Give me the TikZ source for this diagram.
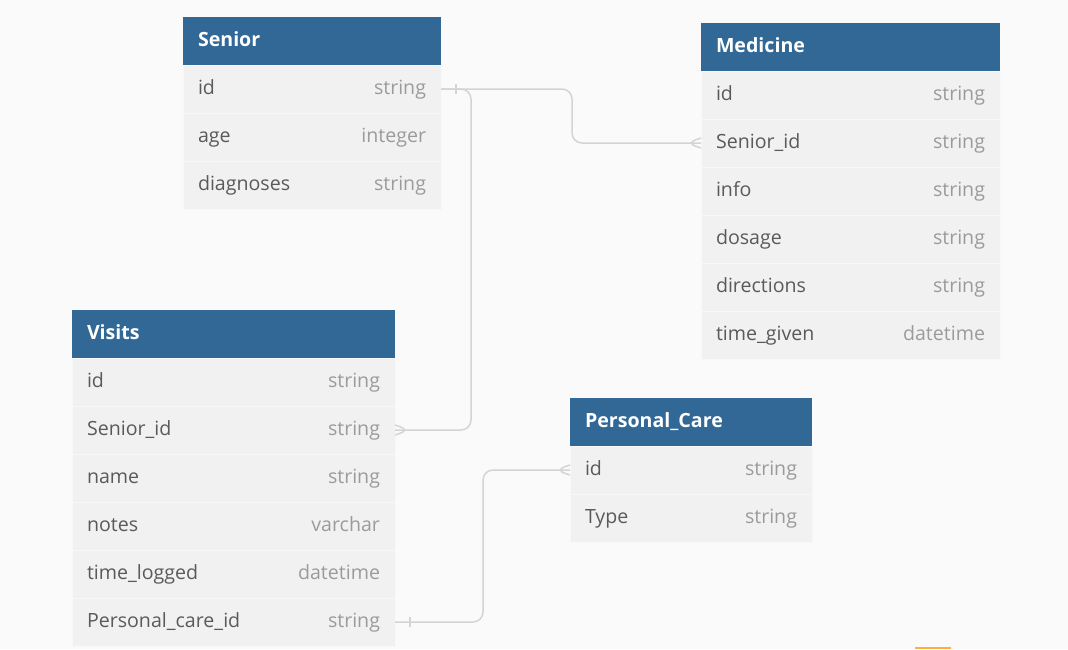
\documentclass[tikz,border=0pt]{standalone}
\usepackage{fontspec}
\setmainfont{Open Sans}
\usetikzlibrary{positioning}

\definecolor{headblue}{HTML}{316896}
\definecolor{rowgray}{HTML}{F1F1F1}
\definecolor{rowline}{HTML}{F8F8F8}
\definecolor{namegray}{HTML}{5A5A5A}
\definecolor{typegray}{HTML}{9B9B9B}
\definecolor{linkgray}{HTML}{D4D4D4}
\definecolor{bggray}{HTML}{FAFAFA}
\definecolor{badge}{HTML}{FFB03A}

\newcommand{\ftype}[1]{\textcolor{typegray}{#1}}

\begin{document}
\begin{tikzpicture}[
    x=0.5pt, y=-0.5pt,
    font=\fontsize{9.8}{12}\selectfont,
    tblhead/.style={rectangle, fill=headblue, text=white, font=\fontsize{9.8}{12}\selectfont\bfseries,
        anchor=north west, inner xsep=7.5pt, inner ysep=0pt, outer sep=0pt,
        text height=7.4pt, text depth=2.2pt,
        minimum height=24pt, text width=#1, align=left},
    tblrow/.style={rectangle, fill=rowgray, draw=rowline, line width=0.5pt, text=namegray,
        inner xsep=7.5pt, inner ysep=0pt, outer sep=0pt,
        text height=7.4pt, text depth=2.2pt,
        minimum height=24pt, text width=#1},
    link/.style={draw=linkgray, line width=0.75pt, rounded corners=5pt}
]
    % page
    \useasboundingbox (0,0) rectangle (1068,649);
    \fill[bggray] (0,0) rectangle (1068,649);

    % Senior
    \node[tblhead=114pt] (senior-head) at (183,17) {Senior};
    \node[tblrow=114pt, below=0pt of senior-head] (senior-id) {id\hfill\ftype{string}};
    \node[tblrow=114pt, below=0pt of senior-id] (senior-age) {age\hfill\ftype{integer}};
    \node[tblrow=114pt, below=0pt of senior-age] (senior-diag) {diagnoses\hfill\ftype{string}};

    % Medicine
    \node[tblhead=134.5pt] (med-head) at (701,23) {Medicine};
    \node[tblrow=134.5pt, below=0pt of med-head] (med-id) {id\hfill\ftype{string}};
    \node[tblrow=134.5pt, below=0pt of med-id] (med-sid) {Senior\_id\hfill\ftype{string}};
    \node[tblrow=134.5pt, below=0pt of med-sid] (med-info) {info\hfill\ftype{string}};
    \node[tblrow=134.5pt, below=0pt of med-info] (med-dose) {dosage\hfill\ftype{string}};
    \node[tblrow=134.5pt, below=0pt of med-dose] (med-dir) {directions\hfill\ftype{string}};
    \node[tblrow=134.5pt, below=0pt of med-dir] (med-time) {time\_given\hfill\ftype{datetime}};

    % Visits
    \node[tblhead=146.5pt] (vis-head) at (72,310) {Visits};
    \node[tblrow=146.5pt, below=0pt of vis-head] (vis-id) {id\hfill\ftype{string}};
    \node[tblrow=146.5pt, below=0pt of vis-id] (vis-sid) {Senior\_id\hfill\ftype{string}};
    \node[tblrow=146.5pt, below=0pt of vis-sid] (vis-name) {name\hfill\ftype{string}};
    \node[tblrow=146.5pt, below=0pt of vis-name] (vis-notes) {notes\hfill\ftype{varchar}};
    \node[tblrow=146.5pt, below=0pt of vis-notes] (vis-time) {time\_logged\hfill\ftype{datetime}};
    \node[tblrow=146.5pt, below=0pt of vis-time] (vis-pcid) {Personal\_care\_id\hfill\ftype{string}};

    % Personal_Care
    \node[tblhead=106pt] (pc-head) at (570,398) {Personal\_Care};
    \node[tblrow=106pt, below=0pt of pc-head] (pc-id) {id\hfill\ftype{string}};
    \node[tblrow=106pt, below=0pt of pc-id] (pc-type) {Type\hfill\ftype{string}};

    % relations
    \draw[link] (senior-id.east) -| ([xshift=-64.5pt]med-sid.west) -- (med-sid.west);
    \draw[link] (senior-id.east) -| ([xshift=15pt]senior-id.east |- vis-sid.east) -- (vis-sid.east);
    \draw[link] (vis-pcid.east) -| ([xshift=44pt]vis-pcid.east |- pc-id.west) -- (pc-id.west);

    % one side
    \draw[link] ([xshift=7.5pt, yshift=-2.5pt]senior-id.east) -- ([xshift=7.5pt, yshift=2.5pt]senior-id.east);
    \draw[link] ([xshift=7.5pt, yshift=-2.5pt]vis-pcid.east) -- ([xshift=7.5pt, yshift=2.5pt]vis-pcid.east);

    % many side
    \draw[link] ([yshift=2.5pt]med-sid.west) -- ([xshift=-7.5pt]med-sid.west) -- ([yshift=-2.5pt]med-sid.west);
    \draw[link] ([yshift=2.5pt]vis-sid.east) -- ([xshift=7.5pt]vis-sid.east) -- ([yshift=-2.5pt]vis-sid.east);
    \draw[link] ([yshift=2.5pt]pc-id.west) -- ([xshift=-7.5pt]pc-id.west) -- ([yshift=-2.5pt]pc-id.west);

    % cut-off badge
    \fill[badge] (915,647) rectangle (951,649);
\end{tikzpicture}
\end{document}
